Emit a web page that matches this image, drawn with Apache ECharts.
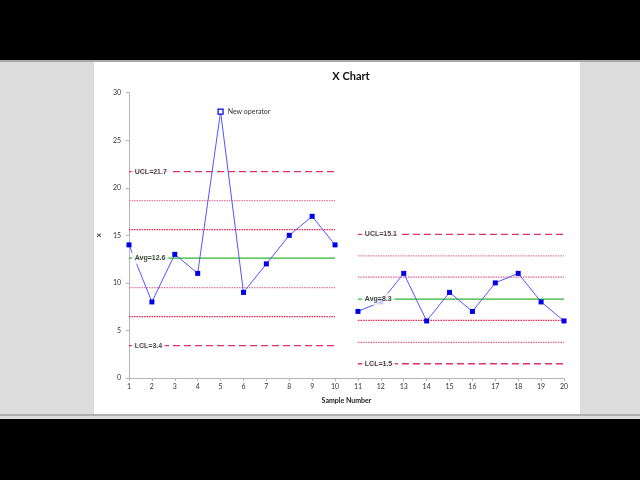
<!DOCTYPE html>
<html>
<head>
<meta charset="utf-8">
<title>X Chart</title>
<script src="https://cdn.jsdelivr.net/npm/echarts@6/dist/echarts.min.js"></script>
<style>
  html, body { margin: 0; padding: 0; background: #dcdcdc; }
  #chart { width: 640px; height: 480px; }
</style>
</head>
<body>
<div id="chart"></div>
<script>
// samples on the x axis
const samples = [1, 2, 3, 4, 5, 6, 7, 8, 9, 10, 11, 12, 13, 14, 15, 16, 17, 18, 19, 20];
const yTicks = [0, 5, 10, 15, 20, 25, 30];

// measurements, before and after the change
const phase1Samples = [1, 2, 3, 4, 5, 6, 7, 8, 9, 10];
const phase1Values = [14, 8, 13, 11, 28, 9, 12, 15, 17, 14];
const phase2Samples = [11, 12, 13, 14, 15, 16, 17, 18, 19, 20];
const phase2Values = [7, 8, 11, 6, 9, 7, 10, 11, 8, 6];

// control lines: UCL, +2s, +1s, Avg, -1s, -2s, LCL
const limitKinds = ['ucl', 'zone', 'zone', 'avg', 'zone', 'zone', 'lcl'];
const phase1Limits = [21.7, 18.65, 15.6, 12.6, 9.5, 6.45, 3.4];
const phase2Limits = [15.1, 12.85, 10.6, 8.3, 6.05, 3.75, 1.5];
const phase1Labels = ['UCL=21.7', '', '', 'Avg=12.6', '', '', 'LCL=3.4'];
const phase2Labels = ['UCL=15.1', '', '', 'Avg=8.3', '', '', 'LCL=1.5'];
const phase1ZoneColors = ['#e0306a', '#e57ba0', '#f0204a', '#2fb52f', '#e57ba0', '#f0204a', '#e0306a'];
const phase2ZoneColors = ['#e0306a', '#e57ba0', '#e8608a', '#2fb52f', '#f0204a', '#e8608a', '#e0306a'];

const flaggedIndex = 4;
const flaggedNote = 'New operator';

const chart = echarts.init(document.getElementById('chart'));

const lineStyleFor = (kind, color) => {
  if (kind === 'avg') return { color: color, width: 1.2, type: 'solid' };
  if (kind === 'zone') return { color: color, width: 1.2, type: [1.5, 1] };
  return { color: color, width: 1.3, type: [7, 4] };
};

const limitSeries = (from, to, limits, colors) =>
  limits.map((v, i) => ({
    type: 'line',
    data: [[from, v], [to, v]],
    symbol: 'none',
    silent: true,
    z: 1,
    lineStyle: lineStyleFor(limitKinds[i], colors[i])
  }));

const labelSeries = (x, limits, labels) => ({
  type: 'scatter',
  symbolSize: 0,
  silent: true,
  z: 10,
  data: limits
    .map((v, i) => ({ value: [x, v], name: labels[i] }))
    .filter((d) => d.name !== ''),
  label: {
    show: true,
    position: 'right',
    distance: 0,
    formatter: (p) => p.name,
    fontFamily: 'Liberation Sans',
    fontSize: 7,
    fontWeight: 'bold',
    color: '#111',
    backgroundColor: '#fff',
    padding: [3, 3, 2, 3]
  }
});

const dataSeries = (xs, ys) => ({
  type: 'line',
  z: 5,
  symbol: 'rect',
  symbolSize: 5,
  data: xs.map((x, i) => {
    const item = { value: [x, ys[i]] };
    if (ys === phase1Values && i === flaggedIndex) {
      item.itemStyle = { color: '#fff', borderColor: '#0000e0', borderWidth: 1.2 };
      item.label = {
        show: true,
        position: 'right',
        distance: 4,
        formatter: flaggedNote,
        fontFamily: 'Lato',
        fontSize: 7,
        color: '#333'
      };
    }
    return item;
  }),
  lineStyle: { color: '#5555ff', width: 1 },
  itemStyle: { color: '#0000e8' }
});

const option = {
  animation: false,
  backgroundColor: '#dcdcdc',
  textStyle: { fontFamily: 'Lato' },
  graphic: [
    { type: 'rect', z: -10, shape: { x: 0, y: 0, width: 640, height: 60 }, style: { fill: '#000' } },
    { type: 'rect', z: -10, shape: { x: 0, y: 60, width: 640, height: 2 }, style: { fill: '#a8a8a8' } },
    { type: 'rect', z: -10, shape: { x: 94, y: 62, width: 486, height: 352 }, style: { fill: '#fff' } },
    { type: 'rect', z: -10, shape: { x: 0, y: 414, width: 640, height: 2 }, style: { fill: '#b0b0b0' } },
    { type: 'rect', z: -10, shape: { x: 0, y: 419, width: 640, height: 61 }, style: { fill: '#000' } }
  ],
  title: {
    text: 'X Chart',
    left: 346,
    textAlign: 'center',
    top: 66,
    textStyle: { fontFamily: 'Lato', fontSize: 11, fontWeight: 'bold', color: '#111' }
  },
  grid: { left: 129, right: 76, top: 92.7, bottom: 102 },
  xAxis: {
    type: 'value',
    min: samples[0],
    max: samples[samples.length - 1],
    interval: 1,
    name: 'Sample Number',
    nameLocation: 'middle',
    nameGap: 19,
    nameTextStyle: { fontSize: 7, fontWeight: 'bold', color: '#222' },
    axisLine: { lineStyle: { color: '#b5b5b5' } },
    axisTick: { length: 3, lineStyle: { color: '#b5b5b5' } },
    axisLabel: { fontSize: 7, color: '#333', margin: 5 },
    splitLine: { show: false }
  },
  yAxis: {
    type: 'value',
    min: yTicks[0],
    max: yTicks[yTicks.length - 1],
    interval: 5,
    name: 'X',
    nameLocation: 'middle',
    nameGap: 20,
    nameRotate: 90,
    nameTextStyle: { fontSize: 6, fontWeight: 'bold', color: '#222' },
    axisLine: { show: true, lineStyle: { color: '#b5b5b5' } },
    axisTick: { show: true, length: 3, lineStyle: { color: '#b5b5b5' } },
    axisLabel: { fontSize: 7, color: '#333', margin: 8 },
    splitLine: { show: false }
  },
  series: [
    ...limitSeries(1, 10, phase1Limits, phase1ZoneColors),
    ...limitSeries(11, 20, phase2Limits, phase2ZoneColors),
    dataSeries(phase1Samples, phase1Values),
    dataSeries(phase2Samples, phase2Values),
    labelSeries(1.12, phase1Limits, phase1Labels),
    labelSeries(11.17, phase2Limits, phase2Labels)
  ]
};

chart.setOption(option);
</script>
</body>
</html>
